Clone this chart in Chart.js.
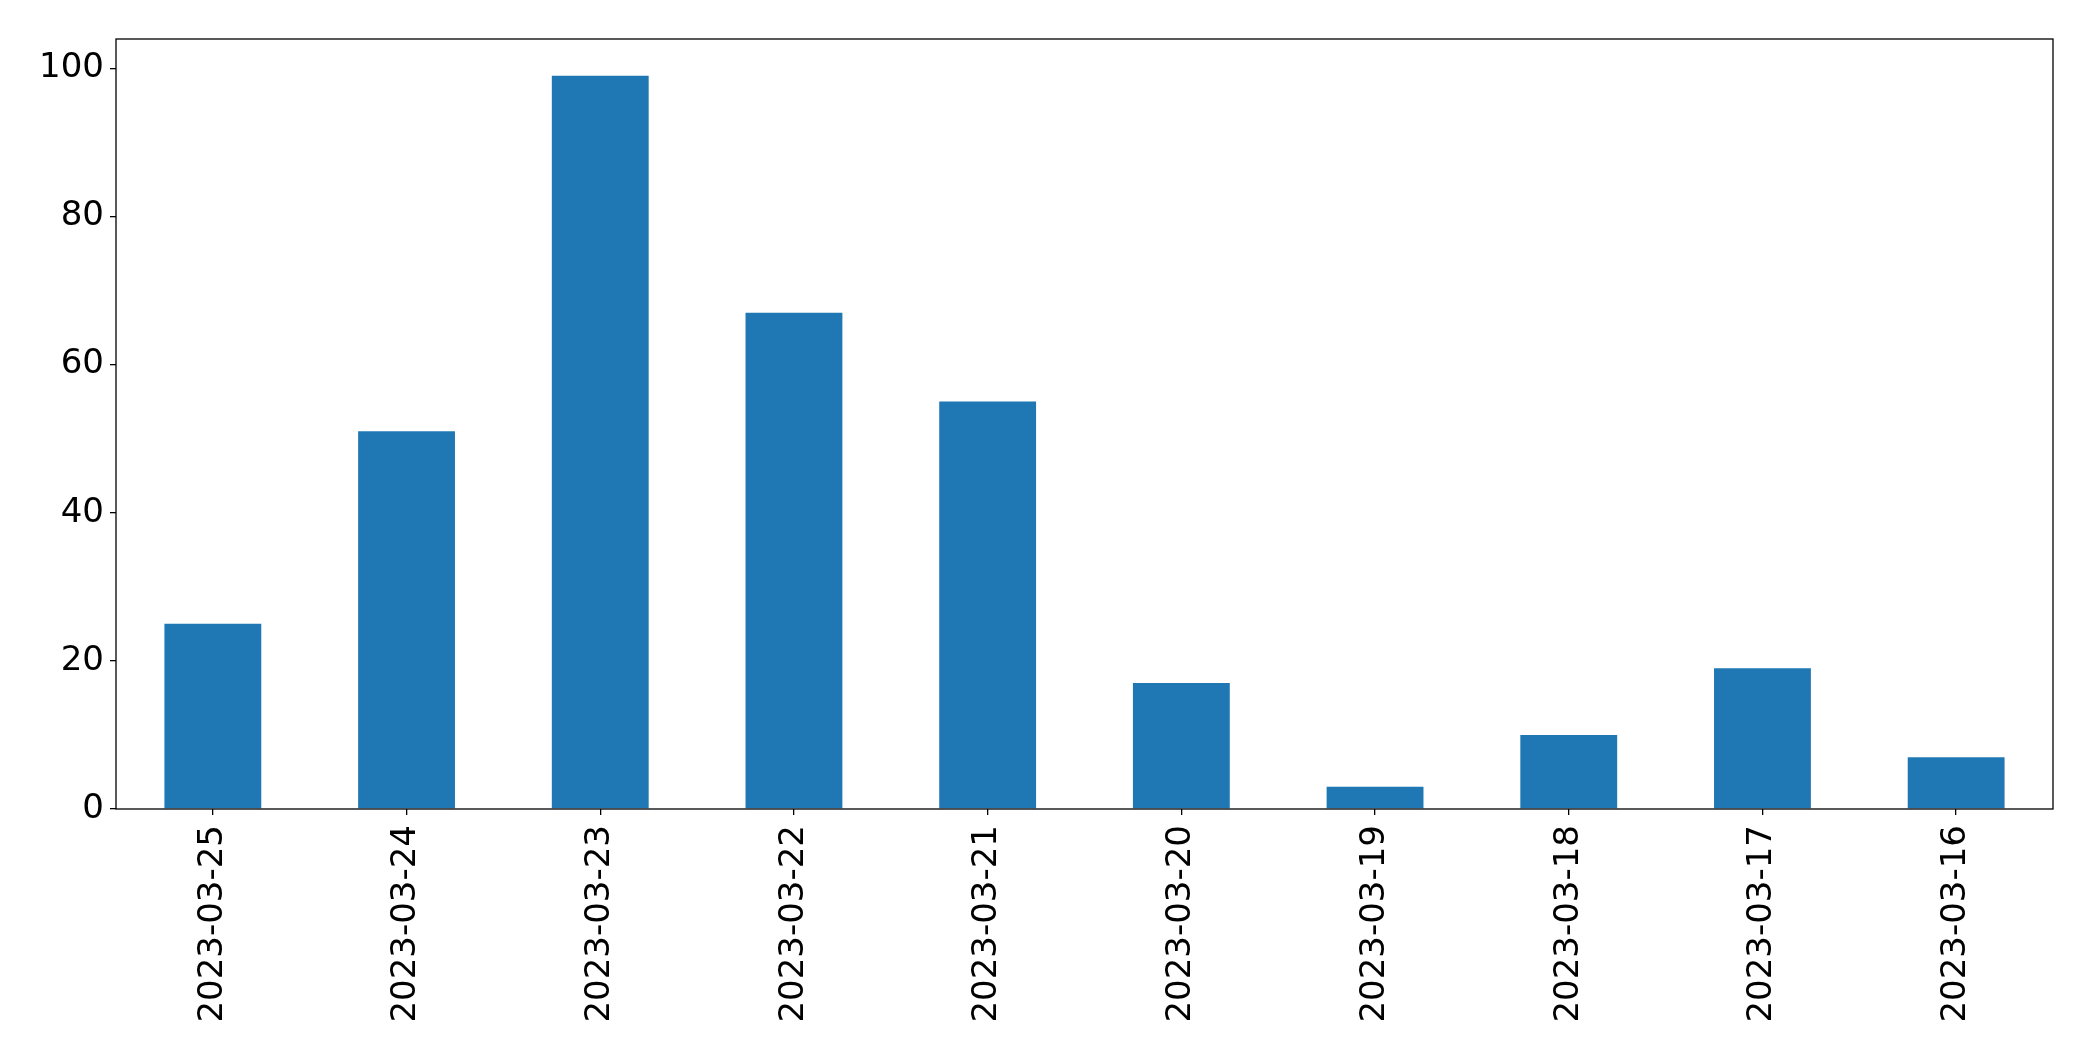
<!DOCTYPE html>
<html>
<head>
<meta charset="utf-8">
<script src="https://cdn.jsdelivr.net/npm/chart.js@4"></script>
<style>
  body { margin: 0; background: #fff; }
</style>
</head>
<body>
<canvas id="chart" width="2093" height="1061"></canvas>
<script>
const dates = ['2023-03-25', '2023-03-24', '2023-03-23', '2023-03-22', '2023-03-21',
               '2023-03-20', '2023-03-19', '2023-03-18', '2023-03-17', '2023-03-16'];
const counts = [25, 51, 99, 67, 55, 17, 3, 10, 19, 7];
const yTicks = [0, 20, 40, 60, 80, 100];

// frame around the plot area, like the matplotlib axes box
const frame = {
    id: 'frame',
    afterDraw(chart) {
        const { ctx, chartArea } = chart;
        ctx.save();
        ctx.strokeStyle = '#000';
        ctx.lineWidth = 1.3;
        ctx.strokeRect(chartArea.left, chartArea.top, chartArea.right - chartArea.left, chartArea.bottom - chartArea.top);
        ctx.restore();
    }
};

const ctx = document.getElementById('chart').getContext('2d');
new Chart(ctx, {
    type: 'bar',
    data: {
        labels: dates,
        datasets: [{
            data: counts,
            backgroundColor: '#1f77b4',
            borderWidth: 0,
            barPercentage: 0.5,
            categoryPercentage: 1.0
        }]
    },
    options: {
        responsive: false,
        animation: false,
        layout: { padding: { top: 39, right: 40, left: 0, bottom: 0 } },
        plugins: { legend: { display: false }, tooltip: { enabled: false } },
        scales: {
            x: {
                offset: true,
                grid: { display: true, offset: false, drawOnChartArea: false, tickLength: 6, color: '#000', lineWidth: 1.3 },
                border: { display: false },
                ticks: {
                    color: '#000',
                    font: { family: 'DejaVu Sans', size: 34 },
                    minRotation: 90,
                    maxRotation: 90,
                    padding: 10
                },
                afterFit(scale) { scale.height = 252; }
            },
            y: {
                min: 0,
                max: 103.95,
                afterBuildTicks(scale) { scale.ticks = yTicks.map(v => ({ value: v })); },
                grid: { display: true, drawOnChartArea: false, tickLength: 6, color: '#000', lineWidth: 1.3 },
                border: { display: false },
                ticks: {
                    color: '#000',
                    font: { family: 'DejaVu Sans', size: 34 },
                    padding: 6
                },
                afterFit(scale) { scale.width = 116; }
            }
        }
    },
    plugins: [frame]
});
</script>
</body>
</html>
